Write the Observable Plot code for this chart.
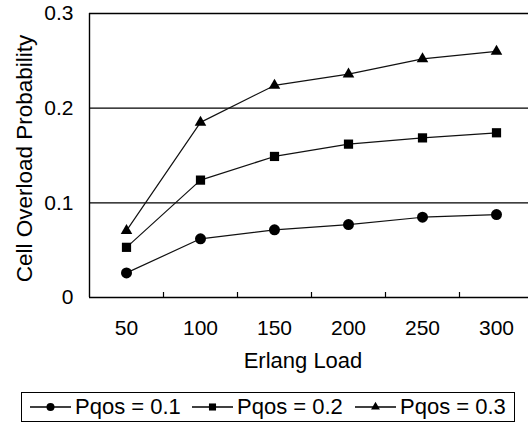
<!DOCTYPE html>
<html>
<head>
<meta charset="utf-8">
<script src="https://cdn.jsdelivr.net/npm/d3@7"></script>
<script src="https://cdn.jsdelivr.net/npm/@observablehq/plot@0.6"></script>
<style>
  html, body { margin: 0; padding: 0; background: #fff; overflow: hidden; }
  body { width: 528px; height: 426px; position: relative; font-family: "Liberation Sans", Arial, sans-serif; }
  #legend { position: absolute; left: 21px; top: 392px; width: 492px; height: 28px; border: 1.5px solid #000; box-sizing: content-box; }
  .item { position: absolute; top: 0; height: 28px; display: flex; align-items: center; font-size: 22px; color: #000; }
  .item svg { margin-right: 4px; }
</style>
</head>
<body>
<div id="chart"></div>
<div id="legend"></div>
<script>
const loads = [50, 100, 150, 200, 250, 300];
const seriesNames = ["Pqos = 0.1", "Pqos = 0.2", "Pqos = 0.3"];
const p01 = [0.026, 0.062, 0.0715, 0.077, 0.0848, 0.0876];
const p02 = [0.053, 0.124, 0.149, 0.162, 0.1686, 0.174];
const p03 = [0.0707, 0.185, 0.224, 0.236, 0.252, 0.260];
const yTicks = [0, 0.1, 0.2, 0.3];
const xTitle = "Erlang Load";
const yTitle = "Cell Overload Probability";
const symbols = ["circle", "square", "triangle"];
const radii = [5.5, 5.2, 4.3];

const seriesValues = [p01, p02, p03];
const data = seriesValues.flatMap((vals, s) => loads.map((x, i) => ({series: seriesNames[s], x, y: vals[i]})));
const step = loads[1] - loads[0];
const mids = d3.pairs(loads).map(([a, b]) => (a + b) / 2);

const marks = [
  Plot.ruleY(yTicks, {stroke: "#000", strokeWidth: 1.4}),
  Plot.ruleX([loads[0] - step / 2], {stroke: "#000", strokeWidth: 1.4}),
  Plot.axisY({ticks: yTicks, tickSize: 0, tickPadding: 16, fontSize: 21, tickFormat: d => d === 0 ? "0" : d.toFixed(1), label: null}),
  Plot.axisX({ticks: loads, tickSize: 0, tickPadding: 23, fontSize: 21, tickFormat: d => String(d), label: null}),
  Plot.axisX({ticks: mids, tickSize: -5, text: null, label: null, stroke: "#000", strokeWidth: 1.2}),
  Plot.text([xTitle], {frameAnchor: "bottom", dy: 70, dx: -6, fontSize: 22, lineAnchor: "bottom", textAnchor: "middle", fill: "#000"}),
  Plot.text([yTitle], {frameAnchor: "left", dx: -65, dy: 3, rotate: -90, fontSize: 22.5, textAnchor: "middle", lineAnchor: "middle", fill: "#000"})
];
seriesNames.forEach((name, s) => {
  const d = data.filter(r => r.series === name);
  marks.push(Plot.line(d, {x: "x", y: "y", stroke: "#111", strokeWidth: 1.2}));
  marks.push(Plot.dot(d, {x: "x", y: "y", symbol: () => symbols[s], r: radii[s], fill: "#000", stroke: "none"}));
});

const chart = Plot.plot({
  width: 528,
  height: 385,
  marginLeft: 89,
  marginRight: 0,
  marginTop: 13,
  marginBottom: 88,
  style: {fontFamily: "'Liberation Sans', Arial, sans-serif", color: "#000", background: "#fff", overflow: "hidden"},
  x: {type: "linear", domain: [loads[0] - step / 2, loads[loads.length - 1] + step / 2], range: [89, 533]},
  y: {domain: [yTicks[0], yTicks[yTicks.length - 1]], range: [297, 13]},
  symbol: {type: "identity"},
  marks
});
document.getElementById("chart").appendChild(chart);

// legend
const legend = document.getElementById("legend");
const legendR = [4, 4, 3.3];
const itemLeft = [8, 170, 333];
seriesNames.forEach((name, s) => {
  const item = document.createElement("div");
  item.className = "item";
  item.style.left = itemLeft[s] + "px";
  const ns = "http://www.w3.org/2000/svg";
  const svg = document.createElementNS(ns, "svg");
  svg.setAttribute("width", 41);
  svg.setAttribute("height", 20);
  const line = document.createElementNS(ns, "line");
  line.setAttribute("x1", 0); line.setAttribute("x2", 41);
  line.setAttribute("y1", 10); line.setAttribute("y2", 10);
  line.setAttribute("stroke", "#000"); line.setAttribute("stroke-width", 1.3);
  svg.appendChild(line);
  const sym = s === 0 ? d3.symbolCircle : s === 1 ? d3.symbolSquare : d3.symbolTriangle;
  const path = document.createElementNS(ns, "path");
  path.setAttribute("d", d3.symbol(sym, Math.PI * legendR[s] * legendR[s])());
  path.setAttribute("transform", "translate(20.5,10)");
  path.setAttribute("fill", "#000");
  svg.appendChild(path);
  item.appendChild(svg);
  const span = document.createElement("span");
  span.textContent = name;
  item.appendChild(span);
  legend.appendChild(item);
});
</script>
</body>
</html>
